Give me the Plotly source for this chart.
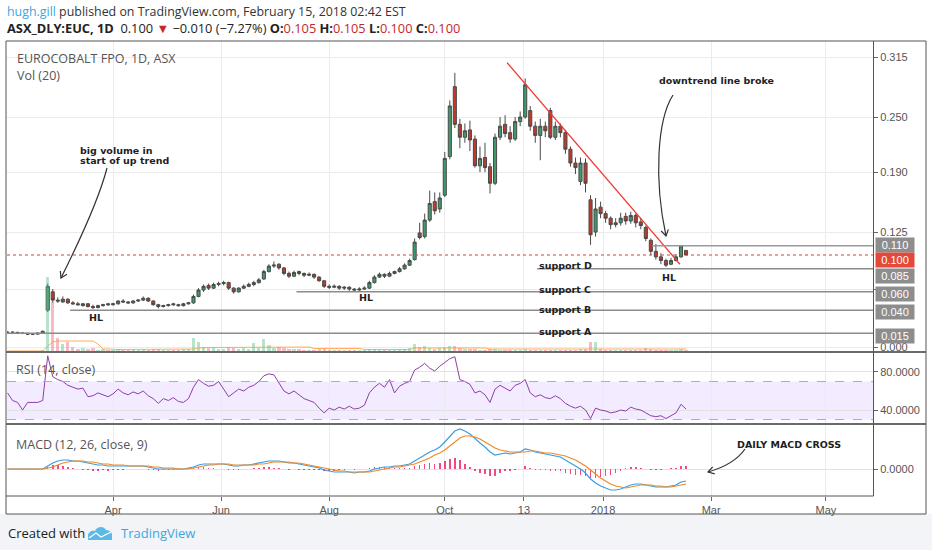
import plotly.graph_objects as go
import pandas as pd

W, H = 932, 550

# ---------------- data (one candle = two sessions) ----------------
bar_dates = pd.bdate_range("2017-02-02", periods=136, freq="2B")

opens = [.016,.016,.016,.015,.015,.014,.014,.015,.040,.060,
         .051,.049,.052,.048,.047,.045,.047,.044,.043,.045,
         .047,.046,.047,.050,.049,.048,.050,.051,.053,.050,
         .046,.044,.045,.047,.046,.045,.047,.048,.055,.062,
         .067,.064,.068,.069,.070,.064,.060,.064,.066,.068,
         .070,.074,.082,.088,.090,.086,.080,.077,.082,.080,
         .078,.079,.076,.072,.066,.065,.066,.064,.065,.063,
         .062,.063,.064,.070,.076,.079,.077,.080,.082,.085,
         .089,.095,.124,.120,.138,.158,.150,.165,.207,.283,
         .242,.228,.236,.226,.197,.206,.196,.178,.228,.242,
         .233,.226,.245,.250,.257,.240,.230,.240,.257,.228,
         .240,.233,.215,.200,.180,.200,.160,.125,.152,.145,
         .140,.133,.135,.142,.137,.143,.136,.130,.116,.104,
         .098,.094,.090,.094,.098,.105]
highs = [.017,.017,.016,.016,.015,.015,.016,.018,.069,.063,
         .054,.055,.053,.050,.049,.048,.048,.046,.046,.047,
         .048,.048,.051,.052,.050,.051,.052,.055,.054,.051,
         .047,.046,.047,.048,.047,.048,.049,.057,.064,.068,
         .069,.070,.071,.072,.071,.065,.065,.068,.070,.072,
         .075,.084,.090,.093,.091,.087,.082,.083,.083,.081,
         .081,.080,.077,.073,.068,.068,.067,.066,.066,.064,
         .065,.066,.072,.078,.081,.080,.082,.083,.087,.091,
         .096,.118,.135,.145,.170,.168,.168,.212,.268,.298,
         .248,.243,.246,.230,.218,.222,.200,.232,.250,.252,
         .240,.250,.256,.292,.262,.245,.248,.245,.260,.245,
         .243,.236,.218,.206,.206,.205,.165,.162,.158,.148,
         .142,.140,.146,.146,.147,.145,.140,.132,.118,.112,
         .102,.096,.097,.101,.111,.105]
lows = [.015,.015,.014,.014,.013,.013,.014,.015,.038,.048,
        .048,.048,.047,.046,.045,.044,.043,.041,.042,.044,
        .045,.045,.046,.048,.047,.047,.049,.050,.049,.045,
        .042,.043,.044,.045,.044,.044,.046,.047,.054,.060,
        .062,.063,.066,.067,.062,.058,.059,.063,.065,.066,
        .069,.073,.081,.086,.084,.078,.075,.076,.078,.076,
        .077,.074,.071,.064,.063,.064,.062,.062,.061,.060,
        .061,.062,.063,.069,.075,.075,.076,.079,.081,.084,
        .088,.094,.117,.118,.136,.144,.146,.163,.204,.238,
        .216,.222,.213,.195,.190,.190,.167,.176,.225,.228,
        .222,.224,.240,.248,.235,.222,.203,.228,.226,.225,
        .228,.210,.196,.188,.176,.168,.111,.120,.140,.135,
        .128,.130,.132,.133,.134,.130,.128,.115,.100,.095,
        .090,.087,.089,.093,.097,.100]
closes = [.016,.016,.015,.015,.014,.014,.015,.017,.066,.051,
          .050,.052,.048,.047,.046,.047,.044,.043,.045,.046,
          .046,.047,.050,.049,.048,.050,.051,.053,.050,.046,
          .044,.045,.046,.046,.045,.047,.048,.055,.062,.066,
          .064,.068,.069,.070,.064,.060,.064,.066,.068,.070,
          .073,.082,.088,.089,.086,.080,.077,.081,.080,.078,
          .079,.076,.072,.066,.065,.066,.064,.065,.063,.062,
          .063,.064,.070,.076,.079,.077,.080,.082,.085,.089,
          .094,.114,.119,.138,.156,.148,.162,.205,.262,.242,
          .228,.235,.225,.197,.205,.195,.178,.228,.240,.232,
          .226,.245,.250,.285,.240,.230,.240,.235,.228,.240,
          .233,.215,.200,.195,.200,.178,.122,.150,.145,.140,
          .133,.135,.140,.137,.143,.135,.132,.118,.104,.098,
          .094,.089,.094,.098,.110,.100]
volume = [1,1,1,1,1,1,1,2,75,50,
          14,8,10,5,3,4,3,4,2,3,
          2,2,3,2,2,3,2,3,2,3,
          3,2,2,2,2,3,3,14,10,5,
          4,5,3,3,5,4,3,4,3,9,
          4,13,7,4,5,4,3,3,3,2,
          2,2,3,3,2,2,2,2,2,2,
          2,2,3,3,2,2,2,2,3,3,
          4,8,5,6,4,3,4,5,6,6,
          4,3,3,3,2,2,3,3,2,2,
          2,2,2,3,2,2,2,2,2,2,
          2,2,2,2,3,3,10,10,3,2,
          2,2,2,2,2,2,2,4,3,2,
          2,2,2,2,3,2]
vol_ma = [1,1,1,1,1,1,1,1,6,10,
          11,11,11,11,11,11,11,11,8,3,
          3,2.5,2.5,2.5,2.5,2.5,2.5,2.5,2.5,2.5,
          2.5,2.5,2.5,2.5,2.5,2.5,2.5,3,4,4.5,
          4.5,4.5,4.5,4.5,4.5,4.5,4.5,4.5,4.5,5,
          5,5,5,5,5,5,5,5,5,5,
          5,3.5,3.5,3.5,3.5,3.5,3.5,3.5,3.5,3.5,
          3.5,2.5,2.5,2.5,2.5,2.5,2.5,2.5,2.5,2.5,
          2.5,4,4,4,4,4,4,4,4,4,
          4,4,4,4,4,4,3,3,3,3,
          3,3,3,3,3,3,3,3,3,3,
          3,3,3,3,3,3,3.5,3.5,3.5,3.5,
          3.5,3.5,3.5,3.5,3.5,3.5,3,3,3,3,
          3,3,3,3,3,3]
rsi = [58,50,48,40,48,48,48,50,97,75,
       72,70,66,64,62,63,54,55,58,56,
       54,57,62,58,56,59,57,60,55,52,
       47,52,50,53,49,48,52,64,72,68,
       65,66,70,62,54,58,62,60,64,66,
       70,76,78,77,68,60,57,60,56,52,
       50,48,42,37,42,40,43,41,44,41,
       42,45,58,64,68,64,72,58,65,68,
       70,82,85,89,84,81,86,90,94,96,
       72,70,67,58,60,56,48,62,66,63,
       60,66,68,72,58,54,56,53,52,55,
       52,47,44,42,44,40,31,42,40,39,
       37,38,40,39,43,41,40,37,34,33,
       34,31,34,37,46,41]
macd = [0,0,0,0,0,0,0,0,.003,.006,
        .008,.009,.009,.008,.008,.007,.006,.005,.004,.004,
        .003,.003,.003,.003,.003,.003,.003,.003,.002,.001,
        0,0,0,0,0,0,.001,.002,.004,.005,
        .005,.005,.005,.005,.004,.003,.003,.004,.004,.005,
        .006,.007,.008,.008,.008,.007,.006,.006,.005,.004,
        .003,.002,.001,-.001,-.002,-.003,-.003,-.003,-.003,-.004,
        -.003,-.003,-.002,0,.001,.002,.002,.003,.003,.004,
        .005,.008,.011,.014,.017,.019,.022,.027,.033,.038,
        .040,.038,.035,.030,.026,.022,.017,.014,.015,.016,
        .015,.016,.017,.020,.019,.017,.016,.015,.014,.013,
        .012,.009,.006,.003,0,-.004,-.010,-.014,-.017,-.019,
        -.021,-.021,-.020,-.018,-.016,-.015,-.015,-.016,-.017,-.018,
        -.018,-.018,-.017,-.016,-.013,-.012]
signal = [0,0,0,0,0,0,0,0,.001,.002,
          .004,.006,.007,.008,.008,.008,.007,.007,.006,.005,
          .005,.004,.004,.004,.003,.003,.003,.003,.003,.002,
          .002,.001,.001,.001,0,0,0,.001,.002,.003,
          .004,.004,.005,.005,.005,.004,.004,.004,.004,.004,
          .005,.005,.006,.007,.007,.007,.007,.006,.006,.005,
          .004,.003,.002,.001,0,-.001,-.002,-.002,-.003,-.003,
          -.003,-.003,-.003,-.002,-.001,0,.001,.002,.002,.003,
          .004,.005,.007,.009,.011,.014,.016,.019,.023,.027,
          .031,.033,.033,.032,.030,.027,.024,.021,.019,.018,
          .017,.017,.017,.017,.018,.018,.017,.016,.016,.015,
          .014,.013,.011,.009,.006,.003,-.001,-.005,-.009,-.012,
          -.015,-.017,-.018,-.019,-.018,-.017,-.016,-.016,-.016,-.017,
          -.017,-.018,-.018,-.017,-.016,-.015]
hist = [0,0,0,0,0,0,0,0,.002,.004,
        .004,.003,.002,.001,0,-.001,-.001,-.002,-.002,-.001,
        -.002,-.001,-.001,-.001,0,0,0,0,-.001,-.001,
        -.002,-.001,-.001,-.001,0,0,.001,.001,.002,.002,
        .001,.001,0,0,-.001,-.001,-.001,0,0,.001,
        .001,.002,.002,.001,.001,0,-.001,0,-.001,-.001,
        -.001,-.001,-.001,-.002,-.002,-.002,-.001,-.001,0,-.001,
        0,0,.001,.002,.002,.002,.001,.001,.001,.001,
        .001,.003,.004,.005,.006,.005,.006,.008,.010,.011,
        .009,.005,.002,-.002,-.004,-.005,-.007,-.007,-.004,-.002,
        -.002,-.001,0,.003,.001,-.001,-.001,-.001,-.002,-.002,
        -.002,-.004,-.005,-.006,-.006,-.007,-.009,-.009,-.008,-.007,
        -.006,-.004,-.002,.001,.002,.002,.001,0,-.001,-.001,
        -.001,0,.001,.001,.003,.003]

for name, arr in [("opens", opens), ("highs", highs), ("lows", lows), ("closes", closes),
                  ("volume", volume), ("vol_ma", vol_ma), ("rsi", rsi), ("macd", macd),
                  ("signal", signal), ("hist", hist)]:
    assert len(arr) == len(bar_dates), (name, len(arr))

tick_dates = ["2017-04-03", "2017-06-01", "2017-08-01", "2017-10-04",
              "2017-11-16 12:00", "2018-01-01", "2018-03-01", "2018-05-03 16:00"]
tick_text = ["Apr", "Jun", "Aug", "Oct", "13", "2018", "Mar", "May"]
x_range = ["2017-02-01 19:00", "2018-05-30 09:36"]

price_ticks = [0.0, 0.0625, 0.125, 0.19, 0.25, 0.315]
price_tick_text = ["0.000", "", "0.125", "0.190", "0.250", "0.315"]

support_names = ["support A", "support B", "support C", "support D"]
support_levels = [0.015, 0.040, 0.060, 0.085]
support_start = ["2017-02-01 19:00", "2017-03-08 22:00", "2017-07-13", "2017-11-23 17:00"]
break_level = 0.110
break_start = "2018-01-26 12:00"
last_close = 0.100

trend_dates = ["2017-11-07 19:00", "2018-02-12 14:00"]
trend_prices = [0.309, 0.090]

# ---------------- styling helpers ----------------
def px(x):
    return x / W

def py(y):
    return 1 - y / H

def P(x, y):
    return f"{px(x):.5f},{py(y):.5f}"

GRID = "#ebebeb"
AXFONT = dict(family="Arial, Liberation Sans", size=11, color="#555555")
up = [c >= o for o, c in zip(opens, closes)]

fig = go.Figure()

fig.add_trace(go.Bar(
    x=bar_dates, y=volume, xaxis="x", yaxis="y4",
    marker=dict(color=["rgba(95,190,140,0.45)" if u else "rgba(240,105,125,0.45)" for u in up],
                line=dict(width=0)),
    width=86400000 * 1.3, showlegend=False, hoverinfo="skip"))
fig.add_trace(go.Scatter(
    x=bar_dates, y=vol_ma, xaxis="x", yaxis="y4", mode="lines",
    line=dict(color="rgba(255,150,40,0.75)", width=1), showlegend=False, hoverinfo="skip"))

fig.add_trace(go.Candlestick(
    x=bar_dates, open=opens, high=highs, low=lows, close=closes,
    xaxis="x", yaxis="y",
    increasing=dict(fillcolor="#3f9a6b", line=dict(color="#4a4a4a", width=1)),
    decreasing=dict(fillcolor="#c0392b", line=dict(color="#4a4a4a", width=1)),
    whiskerwidth=0, showlegend=False, hoverinfo="skip"))

fig.add_trace(go.Scatter(
    x=trend_dates, y=trend_prices, xaxis="x", yaxis="y", mode="lines",
    line=dict(color="#ee3b33", width=1.3), showlegend=False, hoverinfo="skip"))

fig.add_trace(go.Scatter(
    x=bar_dates, y=rsi, xaxis="x2", yaxis="y2", mode="lines",
    line=dict(color="#8e3fa8", width=1), showlegend=False, hoverinfo="skip"))

fig.add_trace(go.Bar(
    x=bar_dates, y=hist, xaxis="x3", yaxis="y3",
    marker=dict(color="rgba(233,30,99,0.8)", line=dict(width=0)),
    width=86400000 * 0.6, showlegend=False, hoverinfo="skip"))
fig.add_trace(go.Scatter(
    x=bar_dates, y=macd, xaxis="x3", yaxis="y3", mode="lines",
    line=dict(color="#3a9de3", width=1.2), showlegend=False, hoverinfo="skip"))
fig.add_trace(go.Scatter(
    x=bar_dates, y=signal, xaxis="x3", yaxis="y3", mode="lines",
    line=dict(color="#f0892b", width=1.2), showlegend=False, hoverinfo="skip"))

xdom = [px(7), px(873)]
xcommon = dict(domain=xdom, type="date", range=x_range,
               rangebreaks=[dict(bounds=["sat", "mon"])],
               tickmode="array", tickvals=tick_dates, ticktext=tick_text,
               showgrid=True, gridcolor=GRID, gridwidth=1, zeroline=False,
               showline=False, rangeslider=dict(visible=False), fixedrange=True)

fig.update_layout(
    width=W, height=H, margin=dict(l=0, r=0, t=0, b=0),
    paper_bgcolor="white", plot_bgcolor="white",
    bargap=0, barmode="overlay", boxgap=0.12, showlegend=False,
    xaxis=dict(xcommon, anchor="y", showticklabels=False),
    xaxis2=dict(xcommon, anchor="y2", matches="x", showticklabels=False),
    xaxis3=dict(xcommon, anchor="y3", matches="x", showticklabels=True,
                ticks="outside", ticklen=4, tickcolor="#666666", tickfont=AXFONT),
    yaxis=dict(domain=[py(352), py(41)], range=[-0.0054, 0.3326], side="right", anchor="x",
               tickmode="array", tickvals=price_ticks, ticktext=price_tick_text,
               ticks="outside", ticklen=4, tickcolor="#666666", tickfont=AXFONT,
               showgrid=True, gridcolor=GRID, zeroline=False, fixedrange=True),
    yaxis4=dict(overlaying="y", range=[0, 311], visible=False, fixedrange=True),
    yaxis2=dict(domain=[py(424), py(352)], range=[25.3, 101], side="right", anchor="x2",
                tickmode="array", tickvals=[40, 80], ticktext=["40.0000", "80.0000"],
                ticks="outside", ticklen=4, tickcolor="#666666", tickfont=AXFONT,
                showgrid=True, gridcolor="#e2e2e2", zeroline=False, fixedrange=True),
    yaxis3=dict(domain=[py(496), py(424)], range=[-0.027, 0.045], side="right", anchor="x3",
                tickmode="array", tickvals=[0], ticktext=["0.0000"],
                ticks="outside", ticklen=4, tickcolor="#666666", tickfont=AXFONT,
                showgrid=True, gridcolor="#e2e2e2", zeroline=False, fixedrange=True),
)

shapes = []
# RSI band and its dashed bounds
shapes.append(dict(type="rect", xref="x domain", yref="y2", x0=0, x1=1, y0=30, y1=70,
                   fillcolor="rgba(160,100,255,0.13)", line=dict(width=0), layer="below"))
for lv in (30, 70):
    shapes.append(dict(type="line", xref="x domain", yref="y2", x0=0, x1=1, y0=lv, y1=lv,
                       line=dict(color="#b7a3cf", width=1, dash="dash")))
# support lines and the break level
for lv, start in zip(support_levels, support_start):
    shapes.append(dict(type="line", xref="x", yref="y", x0=start, x1=x_range[1], y0=lv, y1=lv,
                       line=dict(color="#8c8c8c", width=1.5)))
shapes.append(dict(type="line", xref="x", yref="y", x0=break_start, x1=x_range[1],
                   y0=break_level, y1=break_level, line=dict(color="#9a9a9a", width=1.5)))
shapes.append(dict(type="line", xref="x domain", yref="y", x0=0, x1=1,
                   y0=last_close, y1=last_close, line=dict(color="#d8442f", width=1, dash="dot")))

# frame, separators, bottom band
shapes.append(dict(type="rect", xref="paper", yref="paper", x0=0, x1=1, y0=0, y1=py(514),
                   fillcolor="#f2f4f7", line=dict(width=0), layer="below"))
shapes.append(dict(type="rect", xref="paper", yref="paper", x0=px(6), x1=px(926), y0=py(514), y1=py(41),
                   line=dict(color="#555555", width=1)))
for yy in (352, 424):
    shapes.append(dict(type="line", xref="paper", yref="paper", x0=px(6), x1=px(926), y0=py(yy), y1=py(yy),
                       line=dict(color="#6a6a6a", width=2)))
shapes.append(dict(type="line", xref="paper", yref="paper", x0=px(873.5), x1=px(873.5), y0=py(496), y1=py(41),
                   line=dict(color="#555555", width=1)))
shapes.append(dict(type="line", xref="paper", yref="paper", x0=px(6), x1=px(873.5), y0=py(496), y1=py(496),
                   line=dict(color="#555555", width=1)))

# hand-drawn arrows
def arrow(path_pts, tip, d, size=7):
    import math
    sx, sy = path_pts[0]
    c1, c2, e = path_pts[1], path_pts[2], path_pts[3]
    body = f"M{P(sx, sy)} C{P(*c1)} {P(*c2)} {P(*e)}"
    n = math.hypot(*d)
    bx, by = -d[0] / n, -d[1] / n
    pts = []
    for a in (math.radians(32), -math.radians(32)):
        rx = bx * math.cos(a) - by * math.sin(a)
        ry = bx * math.sin(a) + by * math.cos(a)
        pts.append((tip[0] + rx * size, tip[1] + ry * size))
    head = f"M{P(*pts[0])} L{P(*tip)} L{P(*pts[1])}"
    style = dict(type="path", xref="paper", yref="paper", line=dict(color="#333333", width=1.2))
    return [dict(style, path=body), dict(style, path=head)]

shapes += arrow([(107, 168), (100, 195), (80, 240), (61, 278)], (61, 278), (-19, 38))
shapes += arrow([(673, 95), (657, 120), (654, 180), (666, 236)], (666, 236), (12, 56))
shapes += arrow([(745, 449), (736, 462), (722, 468), (708, 472)], (708, 472), (-14, 4))

# TradingView logo (simplified)
shapes.append(dict(type="path", xref="paper", yref="paper",
                   path=f"M{P(88,540)} L{P(88,536)} C{P(88,532)} {P(92,530)} {P(95,531)} "
                        f"C{P(97,526)} {P(104,526)} {P(106,530)} C{P(110,530)} {P(113,533)} {P(112,537)} "
                        f"L{P(112,540)} Z",
                   fillcolor="#5cb8e6", line=dict(width=0)))
shapes.append(dict(type="path", xref="paper", yref="paper",
                   path=f"M{P(89,538)} L{P(96,533)} L{P(101,537)} L{P(111,532)}",
                   line=dict(color="white", width=1.3)))

fig.update_layout(shapes=shapes)

# ---------------- text ----------------
def T(text, x, y, size=12, color="#555555", family="Open Sans", xanchor="left", **kw):
    d = dict(text=text, x=px(x), y=py(y), xref="paper", yref="paper", showarrow=False,
             xanchor=xanchor, yanchor="middle", font=dict(family=family, size=size, color=color))
    d.update(kw)
    return d

RED = "#c62828"
ann = [
    T("<span style='color:#3ba7e0'>hugh.gill</span> published on TradingView.com, February 15, 2018 02:42 EST",
      5, 11, size=12.4, color="#333333"),
    T(f"<b>ASX_DLY:EUC, 1D</b>  0.100 <span style='color:{RED}'>▼</span> −0.010 (−7.27%) "
      f"<b>O:</b><span style='color:{RED}'>0.105</span> <b>H:</b><span style='color:{RED}'>0.105</span> "
      f"<b>L:</b><span style='color:{RED}'>0.100</span> <b>C:</b><span style='color:{RED}'>0.100</span>",
      5, 28, size=12.8, color="#222222"),
    T("EUROCOBALT FPO, 1D, ASX", 15, 58, size=12.5),
    T("Vol (20)", 15, 75, size=12.5),
    T("RSI (14, close)", 14, 369, size=12.5),
    T("MACD (12, 26, close, 9)", 14, 444, size=12.5),
    T("Created with", 6, 533, size=13, color="#222222"),
    T("TradingView", 119, 533, size=13, color="#3ba7e0"),
]
BOLD = dict(family="DejaVu Sans", size=9.5, color="#1e1e1e")
def B(text, x, y, xanchor="left"):
    d = T(f"<b>{text}</b>", x, y, xanchor=xanchor)
    d["font"] = BOLD
    return d

ann += [
    B("big volume in", 78, 150),
    B("start of up trend", 78, 160),
    B("downtrend line broke", 657, 80),
    B("DAILY MACD CROSS", 735, 444),
    B("HL", 87, 317), B("HL", 357, 297), B("HL", 660, 277),
]
label_y = [331, 309, 289, 265]
for name, yy in zip(support_names, label_y):
    ann.append(B(name, 537, yy))

# price-scale value boxes
box_vals = ["0.110", "0.100", "0.085", "0.060", "0.040", "0.015"]
box_y = [245, 260, 276, 294, 312, 336]
for v, yy in zip(box_vals, box_y):
    ann.append(dict(text=v, x=px(874.5), y=py(yy), xref="paper", yref="paper", showarrow=False,
                    xanchor="left", yanchor="middle", width=38, height=14, borderpad=0,
                    bgcolor="#e2493a" if v == "0.100" else "#8d8d8d",
                    font=dict(family="Arial, Liberation Sans", size=11, color="white")))

fig.update_layout(annotations=ann)

fig.write_html("out.html", config={"displayModeBar": False, "staticPlot": True},
               post_script="document.body.style.margin='0';document.body.style.overflow='hidden';")
